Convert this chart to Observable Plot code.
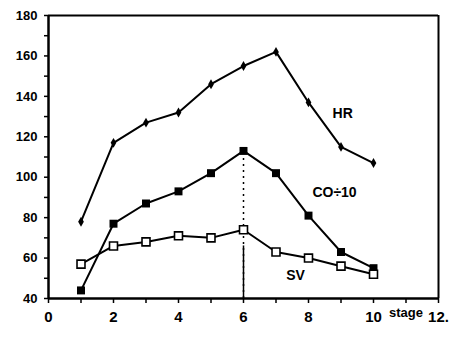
<!DOCTYPE html>
<html><head><meta charset="utf-8">
<script src="https://cdn.jsdelivr.net/npm/d3@7"></script>
<script src="https://cdn.jsdelivr.net/npm/@observablehq/plot@0.6"></script>
<style>body{margin:0;background:#fff;} svg{display:block;}</style>
</head><body><div id="chart"></div>
<script>
const stages = [1,2,3,4,5,6,7,8,9,10];
const hr = [78,117,127,132,146,155,162,137,115,107];
const co10 = [44,77,87,93,102,113,102,81,63,55];
const sv = [57,66,68,71,70,74,63,60,56,52];
const xTicks = [0,1,2,3,4,5,6,7,8,9,10,11,12];
const xLabels = {0:"0",2:"2",4:"4",6:"6",8:"8",10:"10",12:"12."};
const yTicks = d3.range(40,181,10);
const seriesLabels = [
  {x:9.05, y:131.5, text:"HR"},
  {x:8.8, y:92.5, text:"CO÷10"},
  {x:7.6, y:51.5, text:"SV"}
];
const hrData = stages.map((s,i)=>({x:s,y:hr[i]}));
const coData = stages.map((s,i)=>({x:s,y:co10[i]}));
const svData = stages.map((s,i)=>({x:s,y:sv[i]}));

const chart = Plot.plot({
  width:462, height:338,
  marginLeft:48, marginRight:24, marginTop:15, marginBottom:40,
  style:{fontFamily:"'Liberation Sans', Arial, sans-serif", fontWeight:"bold", fontSize:"13px", color:"#000"},
  x:{domain:[0,12]},
  y:{domain:[40,180]},
  marks:[
    Plot.axisX({ticks:xTicks, tickFormat:d=>xLabels[d] ?? "", tickSize:5, tickPadding:8, fontSize:15, label:null, strokeWidth:1.5}),
    Plot.axisY({ticks:yTicks, tickFormat:d=>d%20===0?String(d):"", tickSize:4, tickPadding:7, fontSize:13, label:null, strokeWidth:1.5}),
    Plot.ruleY([40],{strokeWidth:2.5}),
    Plot.ruleX([0],{strokeWidth:2.5}),
    Plot.ruleY([180],{strokeWidth:2}),
    Plot.ruleX([12],{strokeWidth:2}),
    Plot.ruleX([6],{y1:40,y2:113,strokeWidth:1.5,strokeDasharray:"2,4"}),
    Plot.ruleX([6],{y1:40,y2:66,strokeWidth:1.5}),
    Plot.line(hrData,{x:"x",y:"y",strokeWidth:2}),
    Plot.line(coData,{x:"x",y:"y",strokeWidth:2}),
    Plot.line(svData,{x:"x",y:"y",strokeWidth:2}),
    Plot.dot(hrData,{x:"x",y:"y",symbol:"diamond",r:3,fill:"#000"}),
    Plot.dot(coData,{x:"x",y:"y",symbol:"square",r:4.5,fill:"#000"}),
    Plot.dot(svData,{x:"x",y:"y",symbol:"square",r:4.5,fill:"#fff",stroke:"#000",strokeWidth:1.6}),
    Plot.text(seriesLabels,{x:"x",y:"y",text:"text",fontSize:14,fontWeight:"bold"}),
    Plot.text(["stage"],{x:11,y:40,dy:14,text:d=>d,fontSize:13,fontWeight:"bold"})
  ]
});
document.getElementById("chart").appendChild(chart);
</script></body></html>
